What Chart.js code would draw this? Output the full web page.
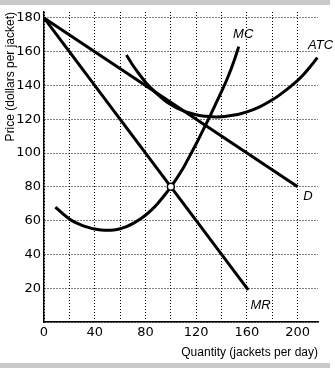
<!DOCTYPE html>
<html>
<head>
<meta charset="utf-8">
<script src="https://cdn.jsdelivr.net/npm/chart.js@4/dist/chart.umd.min.js"></script>
<style>
  html, body { margin: 0; padding: 0; background: #ffffff; }
  #wrap { position: relative; width: 335px; height: 368px; overflow: hidden; background: #fff; }
  #c { position: absolute; left: 0; top: 0; }
  .bar { position: absolute; left: 0; width: 330px; background: #c8c8c8; }
</style>
</head>
<body>
<div id="wrap">
  <canvas id="c" width="335" height="368"></canvas>
  <div class="bar" style="top:0;height:5px;"></div>
  <div class="bar" style="top:363px;height:5px;"></div>
</div>
<script>
// ---- data ----
const demandQ = [0, 200];
const demandP = [180, 80];

const mrQ = [0, 161];
const mrP = [180, 19];

const mcQ = [9, 15, 20, 25, 30, 35, 40, 45, 50, 55, 60, 65, 70, 75, 80, 85, 90, 95, 100,
             105, 110, 115, 120, 125, 130, 135, 140, 145, 150, 153.5];
const mcP = [68, 64, 61, 58.8, 57.2, 56, 55, 54.5, 54.3, 54.5, 55.2, 56.5, 58.2, 60.5, 63.2, 66.5, 70.5, 75, 80,
             85.5, 91.5, 98.5, 105.5, 113, 120.5, 128.5, 136.5, 145, 155, 163];

const atcQ = [65, 70, 75, 80, 85, 90, 95, 100, 105, 110, 115, 120, 125, 130, 135, 140, 145, 150,
              155, 160, 165, 170, 175, 180, 185, 190, 195, 200, 205, 210, 215.5];
const atcP = [158, 152, 146.8, 142, 138, 134.4, 131.3, 128.7, 126.6, 125, 123.7, 122.7, 122, 121.6, 121.4, 121.5, 121.9, 122.5,
              123.3, 124.4, 125.7, 127.3, 129.3, 131.5, 134, 136.8, 139.8, 143, 146.8, 151.2, 156.5];

const profitMaxQ = [100];
const profitMaxP = [80];

const xLabelValues = [0, 40, 80, 120, 160, 200];
const yLabelValues = [20, 40, 60, 80, 100, 120, 140, 160, 180];

const curveLabelText = ['MC', 'ATC', 'D', 'MR'];
const curveLabelQ = [157, 218, 208, 170.7];
const curveLabelP = [170.5, 164, 74.6, 10];

const xTitle = 'Quantity (jackets per day)';
const yTitle = 'Price (dollars per jacket)';

// ---- helpers ----
function pts(xs, ys) { return xs.map((x, i) => ({ x: x, y: ys[i] })); }

const lineStyle = {
  showLine: true, borderColor: '#000', borderWidth: 3, pointRadius: 0,
  fill: false, cubicInterpolationMode: 'monotone', clip: false, order: 1
};

const curveLabels = {
  id: 'curveLabels',
  afterDatasetsDraw(chart) {
    const ctx = chart.ctx;
    const xs = chart.scales.x, ys = chart.scales.y;
    ctx.save();
    ctx.fillStyle = '#000';
    ctx.font = 'italic 13px "Liberation Sans", Arial, sans-serif';
    ctx.textAlign = 'center';
    ctx.textBaseline = 'middle';
    curveLabelText.forEach((t, i) => {
      ctx.fillText(t, xs.getPixelForValue(curveLabelQ[i]), ys.getPixelForValue(curveLabelP[i]));
    });
    ctx.restore();
  }
};

new Chart(document.getElementById('c'), {
  type: 'scatter',
  data: {
    datasets: [
      { label: 'Profit max', data: pts(profitMaxQ, profitMaxP), showLine: false,
        pointRadius: 3.5, pointBackgroundColor: '#fff', pointBorderColor: '#000',
        pointBorderWidth: 1.5, clip: false, order: 0 },
      Object.assign({ label: 'MC', data: pts(mcQ, mcP) }, lineStyle),
      Object.assign({ label: 'ATC', data: pts(atcQ, atcP) }, lineStyle),
      Object.assign({ label: 'D', data: pts(demandQ, demandP) }, lineStyle),
      Object.assign({ label: 'MR', data: pts(mrQ, mrP) }, lineStyle)
    ]
  },
  options: {
    responsive: false,
    animation: false,
    devicePixelRatio: 1,
    layout: { padding: { top: 12, right: 17, left: 0, bottom: 0 } },
    plugins: { legend: { display: false }, tooltip: { enabled: false } },
    scales: {
      x: {
        type: 'linear', min: 0, max: 216,
        afterBuildTicks(s) {
          const t = [];
          for (let v = 0; v <= 200; v += 20) t.push({ value: v });
          s.ticks = t;
        },
        afterFit(s) { s.height = 46; },
        ticks: {
          autoSkip: false, maxRotation: 0, padding: 3, color: '#000',
          font: { family: '"DejaVu Sans"', size: 13 },
          callback: (v) => xLabelValues.includes(v) ? String(v) : ''
        },
        grid: { color: '#000', lineWidth: 1, drawTicks: false },
        border: { display: true, color: '#000', width: 1.5, dash: [1, 2] },
        title: {
          display: true, text: xTitle, align: 'end', color: '#000',
          font: { family: '"Liberation Sans"', size: 12 },
          padding: { top: 0, bottom: 8 }
        }
      },
      y: {
        type: 'linear', min: 0, max: 183.5,
        afterBuildTicks(s) {
          const t = [];
          for (let v = 0; v <= 180; v += 20) t.push({ value: v });
          s.ticks = t;
        },
        afterFit(s) { s.width = 44; },
        ticks: {
          autoSkip: false, padding: 3, color: '#000',
          font: { family: '"DejaVu Sans"', size: 13 },
          callback: (v) => yLabelValues.includes(v) ? String(v) : ''
        },
        grid: { color: '#000', lineWidth: 1, drawTicks: false },
        border: { display: true, color: '#000', width: 1.5, dash: [1, 2] },
        title: {
          display: true, text: yTitle, align: 'end', color: '#000',
          font: { family: '"Liberation Sans"', size: 12 },
          padding: { top: 3, bottom: 0 }
        }
      }
    }
  },
  plugins: [curveLabels]
});
</script>
</body>
</html>
